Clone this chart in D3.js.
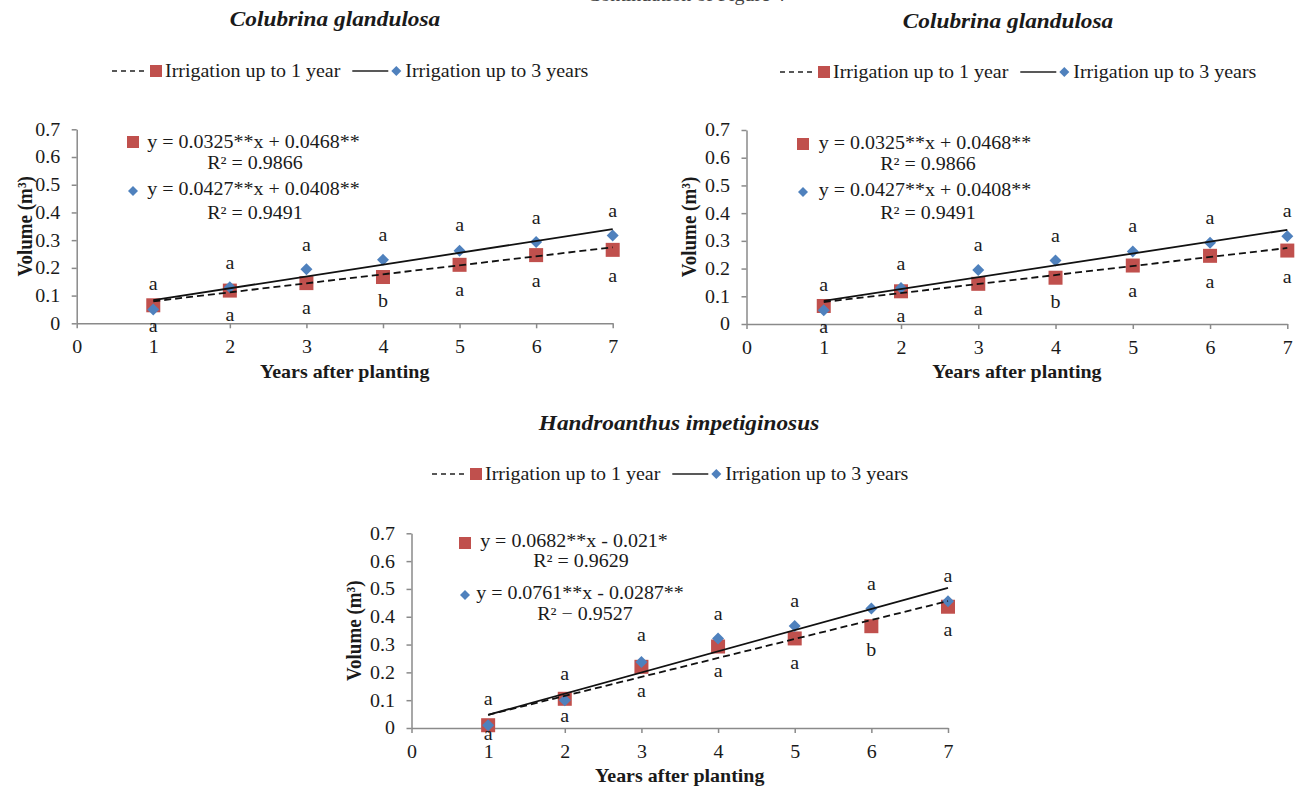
<!DOCTYPE html>
<html>
<head>
<meta charset="utf-8">
<script src="https://cdn.jsdelivr.net/npm/d3@7"></script>
<style>
  html, body { margin: 0; padding: 0; background: #fff; }
  svg { display: block; }
  text { font-family: "Liberation Serif", "Times New Roman", serif; fill: #1a1a1a; }
</style>
</head>
<body>
<svg id="chart" width="1304" height="787"></svg>
<script>
// ---- data -------------------------------------------------------------
const years = [1, 2, 3, 4, 5, 6, 7];
const xTickValues = [0, 1, 2, 3, 4, 5, 6, 7];
const yTickValues = [0, 0.1, 0.2, 0.3, 0.4, 0.5, 0.6, 0.7];
const yTickLabels = ["0", "0.1", "0.2", "0.3", "0.4", "0.5", "0.6", "0.7"];
const seriesNames = ["Irrigation up to 1 year", "Irrigation up to 3 years"];

// Colubrina glandulosa – volume (m³)
const colubrinaOneYear = [0.065, 0.118, 0.145, 0.167, 0.211, 0.246, 0.265];
const colubrinaThreeYears = [0.05, 0.13, 0.195, 0.229, 0.262, 0.293, 0.317];
const colubrinaSlopes = [0.0325, 0.0427];
const colubrinaIntercepts = [0.0468, 0.0408];
const colubrinaEquations = ["y = 0.0325**x + 0.0468**", "y = 0.0427**x + 0.0408**"];
const colubrinaR2 = ["R² = 0.9866", "R² = 0.9491"];
const colubrinaUpperLetters = ["a", "a", "a", "a", "a", "a", "a"];
const colubrinaUpperAt = [0.135, 0.21, 0.278, 0.312, 0.347, 0.375, 0.40];
const colubrinaLowerLetters = ["a", "a", "a", "b", "a", "a", "a"];
const colubrinaLowerAt = [-0.016, 0.023, 0.048, 0.074, 0.113, 0.145, 0.165];

// Handroanthus impetiginosus – volume (m³)
const handroOneYear = [0.01, 0.105, 0.22, 0.293, 0.322, 0.366, 0.436];
const handroThreeYears = [0.01, 0.10, 0.237, 0.322, 0.367, 0.43, 0.456];
const handroSlopes = [0.0682, 0.0761];
const handroIntercepts = [-0.021, -0.0287];
const handroEquations = ["y = 0.0682**x - 0.021*", "y = 0.0761**x - 0.0287**"];
const handroR2 = ["R² = 0.9629", "R² − 0.9527"];
const handroUpperLetters = ["a", "a", "a", "a", "a", "a", "a"];
const handroUpperAt = [0.097, 0.187, 0.327, 0.405, 0.45, 0.513, 0.542];
const handroLowerLetters = ["a", "a", "a", "a", "a", "b", "a"];
const handroLowerAt = [-0.028, 0.036, 0.126, 0.197, 0.226, 0.273, 0.345];

// ---- styling ----------------------------------------------------------
const SX = 1.08;               // horizontal stretch of the lettering
const FS = 18.5;               // body text size
const RED = "#C0504D";
const BLUE = "#4F81BD";
const AXIS = "#8a8a8a";

const svg = d3.select("#chart");
svg.append("rect").attr("width", 1304).attr("height", 787).attr("fill", "#fff");

function label(g, x, y, str, o = {}) {
  const sx = o.sx || SX;
  const t = g.append("text")
    .attr("transform", `translate(${x},${y}) scale(${sx},1)`)
    .attr("text-anchor", o.anchor || "middle")
    .attr("dy", o.dy || "0.35em")
    .style("font-size", (o.size || FS) + "px")
    .style("font-weight", o.weight || "normal")
    .style("font-style", o.style || "normal")
    .text(str);
  return t;
}

function square(g, cx, cy, s, color) {
  g.append("rect").attr("x", cx - s / 2).attr("y", cy - s / 2)
    .attr("width", s).attr("height", s).attr("fill", color);
}
function diamond(g, cx, cy, r, color) {
  g.append("path")
    .attr("d", `M${cx},${cy - r}L${cx + r},${cy}L${cx},${cy + r}L${cx - r},${cy}Z`)
    .attr("fill", color);
}

// Running header (page continuation line, mostly above the frame)
label(svg, 686, 0.5, "Continuation of Figure 4", { dy: "0", anchor: "middle" })
  .style("fill", "#444");

const panels = [
  {
    title: "Colubrina glandulosa", titleX: 335, titleY: 18,
    left: 76.7, right: 612.7, bottom: 323.3, top: 129.3,
    legendX: 112, legendY: 71, yTitleDX: -52,
    one: colubrinaOneYear, three: colubrinaThreeYears,
    slopes: colubrinaSlopes, intercepts: colubrinaIntercepts,
    equations: colubrinaEquations, r2: colubrinaR2,
    markerX: 133, markerY: [142, 191],
    eqX: [253.5, 253.5], eqY: [142, 189],
    r2X: [255, 255], r2Y: [163, 213],
    upL: colubrinaUpperLetters, upAt: colubrinaUpperAt,
    loL: colubrinaLowerLetters, loAt: colubrinaLowerAt
  },
  {
    title: "Colubrina glandulosa", titleX: 1008, titleY: 20,
    left: 746.5, right: 1287.3, bottom: 324, top: 130,
    legendX: 780, legendY: 72, yTitleDX: -58,
    one: colubrinaOneYear, three: colubrinaThreeYears,
    slopes: colubrinaSlopes, intercepts: colubrinaIntercepts,
    equations: colubrinaEquations, r2: colubrinaR2,
    markerX: 803, markerY: [144, 192],
    eqX: [925, 925], eqY: [143, 190],
    r2X: [928, 928], r2Y: [164, 213],
    upL: colubrinaUpperLetters, upAt: colubrinaUpperAt,
    loL: colubrinaLowerLetters, loAt: colubrinaLowerAt
  },
  {
    title: "Handroanthus impetiginosus", titleX: 679, titleY: 422,
    left: 411.5, right: 948, bottom: 728, top: 533.3,
    legendX: 432, legendY: 474, yTitleDX: -58,
    one: handroOneYear, three: handroThreeYears,
    slopes: handroSlopes, intercepts: handroIntercepts,
    equations: handroEquations, r2: handroR2,
    markerX: 465, markerY: [543, 595],
    eqX: [574, 580], eqY: [541, 593],
    r2X: [581, 585], r2Y: [561, 614],
    upL: handroUpperLetters, upAt: handroUpperAt,
    loL: handroLowerLetters, loAt: handroLowerAt
  }
];

function drawPanel(p) {
  const g = svg.append("g");
  const x = d3.scaleLinear().domain([0, 7]).range([p.left, p.right]);
  const y = d3.scaleLinear().domain([0, 0.7]).range([p.bottom, p.top]);

  // title
  label(g, p.titleX, p.titleY, p.title, { size: 22, sx: 1.06, weight: "bold", style: "italic" });

  // legend
  const ly = p.legendY;
  let lx = p.legendX;
  g.append("line").attr("x1", lx).attr("x2", lx + 34).attr("y1", ly).attr("y2", ly)
    .attr("stroke", "#222").attr("stroke-width", 1.6).attr("stroke-dasharray", "5,4");
  square(g, lx + 44, ly, 12, RED);
  const t1 = label(g, lx + 53, ly, seriesNames[0], { anchor: "start" });
  const w1 = t1.node().getComputedTextLength() * SX;
  lx = lx + 53 + w1 + 12;
  g.append("line").attr("x1", lx).attr("x2", lx + 36).attr("y1", ly).attr("y2", ly)
    .attr("stroke", "#222").attr("stroke-width", 1.6);
  diamond(g, lx + 44, ly, 5, BLUE);
  label(g, lx + 53, ly, seriesNames[1], { anchor: "start" });

  // axes
  const xAxis = d3.axisBottom(x).tickValues(xTickValues).tickFormat(d3.format("d"))
    .tickSize(5).tickSizeOuter(0).tickPadding(12);
  const gx = g.append("g").attr("transform", `translate(0,${p.bottom})`).call(xAxis);
  const yAxis = d3.axisLeft(y).tickValues(yTickValues).tickFormat((d, i) => yTickLabels[i])
    .tickSize(5).tickSizeOuter(0).tickPadding(11);
  const gy = g.append("g").attr("transform", `translate(${p.left},0)`).call(yAxis);
  [gx, gy].forEach(a => {
    a.select(".domain").attr("stroke", AXIS).attr("stroke-width", 1.5);
    a.selectAll(".tick line").attr("stroke", AXIS).attr("stroke-width", 1.5);
    a.selectAll(".tick text").style("font-size", FS + "px")
      .style("font-family", "'Liberation Serif', 'Times New Roman', serif")
      .attr("fill", "#1a1a1a");
  });
  gx.selectAll(".tick text").attr("transform", `scale(${SX},1)`);
  gy.selectAll(".tick text").attr("x", null)
    .attr("transform", `translate(-16.5,0) scale(${SX},1)`);

  // axis titles
  label(g, (p.left + p.right) / 2, p.bottom + 48, "Years after planting",
    { size: 18.5, weight: "bold" });
  g.append("text")
    .attr("transform", `translate(${p.left + p.yTitleDX},${(p.top + p.bottom) / 2}) rotate(-90) scale(1,${SX})`)
    .attr("text-anchor", "middle").attr("dy", "0.35em")
    .style("font-size", "19px").style("font-weight", "bold")
    .text("Volume (m³)");

  // markers
  years.forEach((yr, i) => square(g, x(yr), y(p.one[i]), 14, RED));
  years.forEach((yr, i) => diamond(g, x(yr), y(p.three[i]), 6, BLUE));

  // fitted trend lines
  const fit = (k) => [1, 7].map(v => [x(v), y(p.slopes[k] * v + p.intercepts[k])]);
  g.append("path").attr("d", d3.line()(fit(0))).attr("fill", "none")
    .attr("stroke", "#111").attr("stroke-width", 1.8).attr("stroke-dasharray", "7,4");
  g.append("path").attr("d", d3.line()(fit(1))).attr("fill", "none")
    .attr("stroke", "#111").attr("stroke-width", 1.8);

  // regression equations
  square(g, p.markerX, p.markerY[0], 12, RED);
  diamond(g, p.markerX, p.markerY[1], 5, BLUE);
  [0, 1].forEach(k => {
    label(g, p.eqX[k], p.eqY[k], p.equations[k]);
    label(g, p.r2X[k], p.r2Y[k], p.r2[k]);
  });

  // mean-comparison letters
  years.forEach((yr, i) => {
    label(g, x(yr), y(p.upAt[i]), p.upL[i], { dy: "0.23em" });
    label(g, x(yr), y(p.loAt[i]), p.loL[i], { dy: "0.23em" });
  });
}

panels.forEach(drawPanel);
</script>
</body>
</html>
